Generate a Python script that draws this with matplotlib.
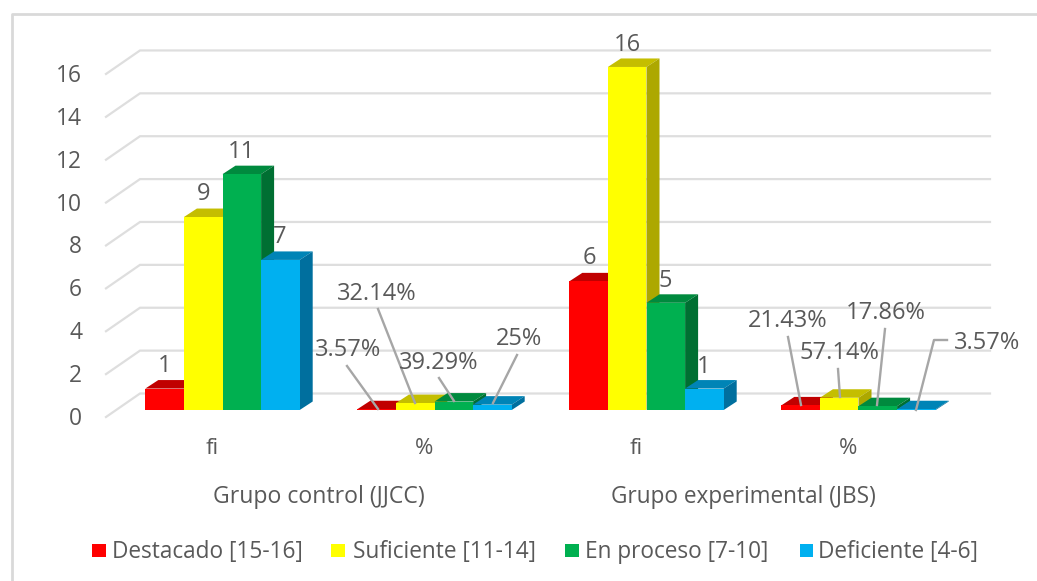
import matplotlib
matplotlib.use("Agg")
import matplotlib.pyplot as plt
from matplotlib.patches import Polygon, Rectangle

plt.rcParams['font.family'] = ['Open Sans', 'DejaVu Sans']

W, H = 1037, 581
groups = ['Grupo control (JJCC)', 'Grupo experimental (JBS)']
categories = ['fi', '%', 'fi', '%']
series = ['Destacado [15-16]', 'Suficiente [11-14]', 'En proceso [7-10]', 'Deficiente [4-6]']
destacado = [1, 0.0357, 6, 0.2143]
suficiente = [9, 0.3214, 16, 0.5714]
en_proceso = [11, 0.3929, 5, 0.1786]
deficiente = [7, 0.25, 1, 0.0357]
labels_destacado = ['1', '3.57%', '6', '21.43%']
labels_suficiente = ['9', '32.14%', '16', '57.14%']
labels_en_proceso = ['11', '39.29%', '5', '17.86%']
labels_deficiente = ['7', '25%', '1', '3.57%']
yticks = [0, 2, 4, 6, 8, 10, 12, 14, 16]

front = ['#FF0000', '#FFFF00', '#00B050', '#00B0F0']
top = ['#C00000', '#C4BE00', '#008A3E', '#0084B6']
side = ['#A80000', '#ADA800', '#006F32', '#006F9E']
text_c = '#595959'
grid_c = '#DEDEDE'
lead_c = '#A6A6A6'

PXX, PXY = 212.0, 21.44      # pixels per category / per y unit
X0, Y0 = 222.5, 410.0        # pixel position of category 0 / value 0

fig = plt.figure(figsize=(W / 100, H / 100), dpi=100)
ax = fig.add_axes([0, 0, 1, 1])
ax.set_xlim(-X0 / PXX, (W - X0) / PXX)
ax.set_ylim((Y0 - H) / PXY, Y0 / PXY)
ax.axis('off')

def dx(p):
    return p / PXX
def dy(p):
    return p / PXY
def px(x):
    return (x - X0) / PXX
def py(y):
    return (Y0 - y) / PXY

# outer frame
ax.plot([px(11.5), px(11.5), px(1037)], [py(581), py(14), py(14)], color='#D9D9D9', lw=2, zorder=1)

# walls: gridlines along the side wall and the back wall
for v in yticks:
    x_f, x_b, x_e = px(106), px(140), px(990)
    y_f, y_b = v + dy(-7), v + dy(16.5)
    ax.plot([x_f, x_b, x_e], [y_f, y_b, y_b], color=grid_c, lw=1.6, zorder=1, solid_joinstyle='miter')
    ax.text(px(82), v + dy(-9), str(v), ha='right', va='center',
            fontsize=16.4, color=text_c, zorder=6)

# bars
bw = 38.6 / PXX
bx, by = 13, 8.5
z = 2.0
values = [destacado, suficiente, en_proceso, deficiente]
for c in range(len(categories)):
    for s, vals in enumerate(values):
        v = vals[c]
        left = c + (s - 2) * bw
        right = left + bw
        ax.add_patch(Polygon([(left, v), (right, v), (right + dx(bx), v + dy(by)), (left + dx(bx), v + dy(by))],
                             closed=True, fc=top[s], ec='none', zorder=z))
        ax.add_patch(Polygon([(right, 0), (right, v), (right + dx(bx), v + dy(by)), (right + dx(bx), dy(by))],
                             closed=True, fc=side[s], ec='none', zorder=z))
        ax.bar(left, v, width=bw, align='edge', color=front[s], linewidth=0, zorder=z + 0.1)
        z += 0.2

# data labels (pixel anchors for the text; leaders for the small % bars)
label_pos = {
    (0, 0): (165, 363), (0, 1): (204, 191), (0, 2): (241, 149), (0, 3): (280, 234),
    (1, 0): (348, 347), (1, 1): (377, 291), (1, 2): (439, 360), (1, 3): (519, 336),
    (2, 0): (589, 255), (2, 1): (627, 42), (2, 2): (665, 278), (2, 3): (704, 364),
    (3, 0): (788, 318), (3, 1): (839, 350), (3, 2): (886, 310), (3, 3): (987, 340),
}
leaders = {
    (1, 0): [(347, 366), (378, 409)],
    (1, 1): [(378, 309), (415, 403)],
    (1, 2): [(439, 378), (454, 401)],
    (1, 3): [(517, 355), (493, 403)],
    (3, 0): [(788, 337), (801, 405)],
    (3, 1): [(838, 369), (840, 397)],
    (3, 2): [(885, 329), (877, 405)],
    (3, 3): [(947, 340), (934, 340), (916, 410)],
}
labels = [labels_destacado, labels_suficiente, labels_en_proceso, labels_deficiente]
for (c, s), (x, y) in label_pos.items():
    ax.text(px(x), py(y + 3), labels[s][c], ha='center', va='center', fontsize=17, color=text_c, zorder=30)
for pts in leaders.values():
    ax.plot([px(p[0]) for p in pts], [py(p[1]) for p in pts], color=lead_c, lw=1.7, zorder=29)

# category axis
for c, name in enumerate(categories):
    ax.text(c - dx(10), py(449), name, ha='center', va='center', fontsize=16, color=text_c)
ax.text(px(319), py(497), groups[0], ha='center', va='center', fontsize=16.6, color=text_c)
ax.text(px(743), py(497), groups[1], ha='center', va='center', fontsize=16.3, color=text_c)

# legend
leg_sq = [92, 331, 565, 800]
leg_tx = [112, 353, 585, 818]
for sq, tx, col, name in zip(leg_sq, leg_tx, front, series):
    ax.add_patch(Rectangle((px(sq), py(557)), 13.5 / PXX, 13.5 / PXY, fc=col, ec='none'))
    ax.text(px(tx), py(552), name, ha='left', va='center', fontsize=16.3, color=text_c)

fig.savefig('out.png', dpi=100)
